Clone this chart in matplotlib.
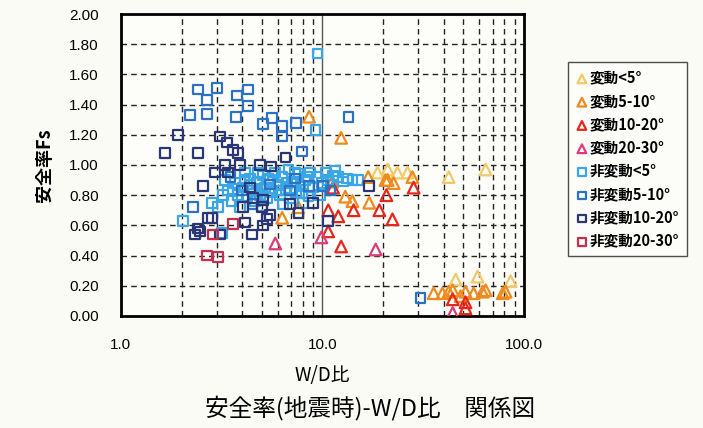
import matplotlib.pyplot as plt
from matplotlib.ticker import FixedLocator, NullFormatter

plt.rcParams['font.family'] = ['Noto Sans CJK JP', 'DejaVu Sans']

# W/D ratio and safety factor Fs, grouped by deformation class
tri_lt5_x = [18.8, 21.1, 23.6, 26.5, 42.4, 64.7, 45.9, 59.0, 86.1]
tri_lt5_y = [0.95, 0.97, 0.95, 0.95, 0.92, 0.97, 0.24, 0.26, 0.23]

tri_5_10_x = [8.6, 12.4, 16.9, 20.6, 21.1, 22.6, 28.0, 13.0, 14.1, 17.1, 11.2,
              6.32, 7.6, 35.7, 39.5, 42.4, 44.4, 48.6, 51.4, 56.4, 62.5, 64.7,
              78.7, 81.3]
tri_5_10_y = [1.32, 1.18, 0.92, 0.90, 0.90, 0.88, 0.92, 0.79, 0.76, 0.75, 0.89,
              0.65, 0.72, 0.15, 0.15, 0.16, 0.17, 0.13, 0.16, 0.15, 0.16, 0.17,
              0.15, 0.16]

tri_10_20_x = [28.4, 20.8, 14.3, 19.2, 22.3, 10.7, 12.0, 12.4, 10.7, 11.3,
               44.4, 51.4, 51.4]
tri_10_20_y = [0.85, 0.80, 0.70, 0.70, 0.64, 0.70, 0.66, 0.46, 0.56, 0.85,
               0.11, 0.09, 0.05]

tri_20_30_x = [5.84, 9.89, 18.4, 44.4]
tri_20_30_y = [0.48, 0.52, 0.44, 0.02]

sq_lt5_x = [3.22, 3.41, 3.57, 3.69, 3.82, 3.91, 4.05, 4.24, 4.38, 4.54, 4.64,
            4.75, 4.92, 5.09, 5.21, 5.33, 5.51, 5.64, 5.84, 6.04, 6.18, 6.32,
            6.55, 6.78, 6.93, 7.17, 7.42, 7.6, 7.78, 8.23, 8.52, 8.71, 9.02,
            9.45, 9.89, 10.4, 10.7, 11.3, 12.0, 12.7, 13.3, 14.1, 2.84, 3.04,
            3.29, 5.03, 4.14, 9.77, 8.0, 6.4, 15.0, 11.6, 9.23, 9.45, 2.03,
            3.18, 4.4, 5.0, 5.7, 6.1, 6.7, 7.3, 7.9, 8.4, 3.6, 4.1, 4.8, 5.4]
sq_lt5_y = [0.80, 0.83, 0.76, 0.88, 0.80, 0.72, 0.85, 0.79, 0.91, 0.83, 0.76,
            0.88, 0.80, 0.93, 0.85, 0.78, 0.90, 0.82, 0.95, 0.87, 0.80, 0.92,
            0.84, 0.97, 0.78, 0.89, 0.82, 0.94, 0.86, 0.90, 0.79, 0.95, 0.85,
            0.92, 0.88, 0.95, 0.90, 0.93, 0.92, 0.89, 0.91, 0.90, 0.75, 0.72,
            0.90, 0.73, 0.95, 0.80, 0.75, 0.74, 0.90, 0.96, 1.23, 1.74, 0.63,
            0.55, 0.87, 0.84, 0.93, 0.83, 0.88, 0.95, 0.81, 0.92, 0.84, 0.90,
            0.95, 0.91]

sq_5_10_x = [2.42, 3.0, 2.68, 2.20, 2.68, 3.78, 4.29, 4.29, 3.73, 5.09, 5.64,
             6.32, 6.32, 7.42, 13.5, 7.95, 30.7, 2.28, 4.0, 5.5, 6.9, 8.6,
             10.1, 11.0, 3.5, 4.5, 7.3]
sq_5_10_y = [1.50, 1.51, 1.43, 1.33, 1.34, 1.46, 1.50, 1.39, 1.32, 1.27, 1.31,
             1.26, 1.19, 1.28, 1.32, 1.09, 0.12, 0.72, 0.83, 0.87, 0.83, 0.86,
             0.86, 0.83, 0.92, 0.74, 0.91]

sq_10_20_x = [1.92, 1.66, 2.42, 3.11, 3.37, 3.61, 3.82, 6.55, 3.29, 3.91, 4.92,
              5.58, 2.94, 3.41, 2.56, 4.38, 4.05, 5.09, 5.03, 4.54, 6.93, 7.6,
              9.02, 4.14, 4.48, 5.09, 5.33, 5.51, 2.42, 2.33, 2.84, 3.11, 17.1,
              10.7, 2.71, 2.47]
sq_10_20_y = [1.20, 1.08, 1.08, 1.19, 1.15, 1.10, 1.08, 1.05, 1.00, 1.00, 1.00,
              0.99, 0.95, 0.95, 0.86, 0.85, 0.72, 0.77, 0.72, 0.78, 0.74, 0.68,
              0.75, 0.62, 0.54, 0.60, 0.64, 0.67, 0.58, 0.54, 0.65, 0.54, 0.86,
              0.63, 0.65, 0.56]

sq_20_30_x = [2.87, 2.68, 3.04, 3.61]
sq_20_30_y = [0.54, 0.40, 0.39, 0.61]

series = [
    (tri_lt5_x, tri_lt5_y, '^', '#f3c866', '変動<5°'),
    (tri_5_10_x, tri_5_10_y, '^', '#ef8a1c', '変動5-10°'),
    (tri_10_20_x, tri_10_20_y, '^', '#e5281c', '変動10-20°'),
    (tri_20_30_x, tri_20_30_y, '^', '#dc3c78', '変動20-30°'),
    (sq_lt5_x, sq_lt5_y, 's', '#3aa6e6', '非変動<5°'),
    (sq_5_10_x, sq_5_10_y, 's', '#2c72c4', '非変動5-10°'),
    (sq_10_20_x, sq_10_20_y, 's', '#2a3676', '非変動10-20°'),
    (sq_20_30_x, sq_20_30_y, 's', '#c4304e', '非変動20-30°'),
]

fig = plt.figure(figsize=(7.03, 4.28), dpi=100, facecolor='#fbfbf6')
ax = fig.add_axes([0.172, 0.262, 0.573, 0.705])
ax.set_facecolor('#fdfdfa')

for xs, ys, m, c, lab in series:
    size = 70 if m == '^' else 48
    ax.scatter(xs, ys, marker=m, s=size, facecolors='none', edgecolors=c,
               linewidths=1.6, label=lab, zorder=3)

ax.set_xscale('log')
ax.set_xlim(1, 100)
ax.set_ylim(0, 2.0)

# dashed grid: minor decades and every 0.2 in Fs, solid line at 10
minor = [m * d for d in (1, 10) for m in range(2, 10)]
for v in minor:
    ax.axvline(v, color='#222222', lw=1.0, ls=(0, (4, 3)), zorder=1)
ax.axvline(10, color='#555555', lw=1.0, zorder=1)
for v in [0.2 * i for i in range(1, 10)]:
    ax.axhline(v, color='#222222', lw=1.0, ls=(0, (4, 3)), zorder=1)

ax.xaxis.set_major_locator(FixedLocator([1, 10, 100]))
ax.xaxis.set_minor_formatter(NullFormatter())
ax.set_xticklabels(['1.0', '10.0', '100.0'])
ax.set_yticks([0.2 * i for i in range(11)])
ax.set_yticklabels(['%.2f' % (0.2 * i) for i in range(11)])
ax.tick_params(which='both', length=0, labelsize=11, pad=16)
for lbl in ax.get_xticklabels() + ax.get_yticklabels():
    lbl.set_family(['Liberation Sans', 'DejaVu Sans'])

for s in ax.spines.values():
    s.set_linewidth(2.0)

ax.set_xlabel('W/D比', fontsize=13.5, labelpad=9)
ax.set_ylabel('安全率Fs', fontsize=13, labelpad=11, fontweight='bold')

leg = ax.legend(loc='upper left', bbox_to_anchor=(1.11, 0.84),
                prop={'size': 10.5, 'weight': 'bold'},
                frameon=True, fancybox=False, edgecolor='#222222',
                labelspacing=0.5, handletextpad=0.1, borderpad=0.5,
                handlelength=0.9, scatterpoints=1, markerscale=0.75,
                borderaxespad=0)
leg.get_frame().set_linewidth(1.0)
leg.get_frame().set_facecolor('#fdfdfa')

fig.text(0.526, 0.047, '安全率(地震時)-W/D比　関係図', ha='center', va='center',
         fontsize=17)

fig.savefig('out.png', dpi=100, facecolor=fig.get_facecolor())
